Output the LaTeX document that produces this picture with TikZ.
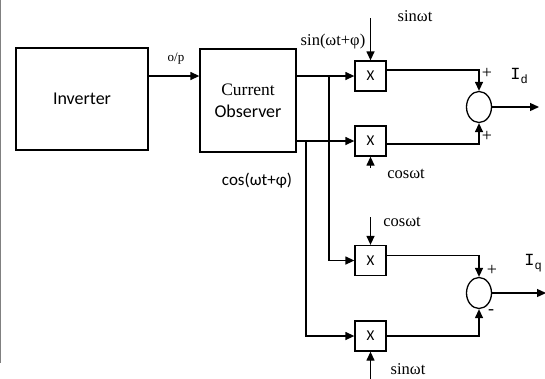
\documentclass[tikz,border=0pt]{standalone}
\usepackage{fontspec}
\setmainfont{Liberation Serif}
\setsansfont{Carlito}
\setmonofont{Liberation Mono}
\usepackage{tikz}
\usetikzlibrary{shapes,arrows.meta,positioning}

\begin{document}
\begin{tikzpicture}[x=1pt, y=-1pt, line width=1.3pt]
			\tikzstyle{Block}	= [draw, rectangle, inner sep=0pt, font=\sffamily\fontsize{18}{21}\selectfont]
			\tikzstyle{Mult}	= [draw, rectangle, minimum width=31pt, minimum height=30pt, inner sep=0pt, font=\sffamily\fontsize{15}{15}\selectfont]
			\tikzstyle{Sum}		= [draw, ellipse, minimum width=25pt, minimum height=31pt, inner sep=0pt]
			\tikzstyle{Sig}		= [-{Triangle[length=9pt,width=8pt]}]
			\tikzstyle{Lbl}		= [inner sep=0pt, font=\fontsize{16.5}{16.5}\selectfont]
			\tikzstyle{Sgn}		= [inner sep=0pt, font=\fontsize{18}{18}\selectfont]
			
			\useasboundingbox (0,0) rectangle (545,378);
			\draw [gray, line width=1.2pt] (0.6,0) -- (0.6,363);
			
			\node (inv) at (82, 99) [Block, minimum width=132pt, minimum height=102pt] {Inverter};
			\node (obs) at (248, 100.5) [Block, minimum width=96pt, minimum height=103pt, align=center] {{\rmfamily\fontsize{17.5}{20}\selectfont Current}\\[1pt]Observer};
			
			\node (x1) at (370.5, 76) [Mult] {X};
			\node (x2) at (370.5, 141) [Mult] {X};
			\node (x3) at (370.5, 260.5) [Mult] {X};
			\node (x4) at (370.5, 336) [Mult] {X};
			
			\node (s1) at (479, 107) [Sum] {};
			\node (s2) at (479, 293) [Sum] {};
			
			\coordinate (b1) at (329, 76);
			\coordinate (b2) at (306, 141);
			\coordinate (r1) at (370.5, 18);
			\coordinate (r2) at (370.5, 168);
			\coordinate (r3) at (370.5, 217);
			\coordinate (r4) at (370.5, 380);
			\coordinate (id) at (539, 107);
			\coordinate (iq) at (546, 293);
			
			% forward path
			\draw [Sig] (inv.east |- x1) to (obs.west |- x1);
			\draw [Sig] (obs.east |- x1) to (x1);
			\draw [Sig] (obs.east |- x2) to (x2);
			\draw [Sig] (b1) |- (x3);
			\draw [Sig] (b2) |- (x4);
			
			% reference signals
			\draw [Sig] (r1) to (x1.north);
			\draw [Sig] (r2) to (x2.south);
			\draw [Sig] (r3) to (x3.north);
			\draw [Sig] (r4) to (x4.south);
			
			% summing
			\draw [Sig] ([yshift=6pt]x1.east) -| (s1.north);
			\draw [Sig] ([yshift=-3pt]x2.east) -| (s1.south);
			\draw [Sig] ([yshift=5pt]x3.east) -| (s2.north);
			\draw [Sig] (x4.east) -| (s2.south);
			\draw [Sig] (s1.east) to (id);
			\draw [Sig] (s2.east) to (iq);
			
			\node (op) at (176, 59) [Lbl, font=\fontsize{13}{13}\selectfont] {o/p};
			\node (lsin) at (333, 42) [Lbl] {sin(ωt+φ)};
			\node (lcos) at (257, 181) [Lbl, font=\sffamily\fontsize{17}{17}\selectfont] {cos(ωt+φ)};
			\node (w1) at (415, 16) [Lbl] {sinωt};
			\node (w2) at (406, 174) [Lbl] {cosωt};
			\node (w3) at (402, 222) [Lbl] {cosωt};
			\node (w4) at (408, 369) [Lbl] {sinωt};
			
			\node (p1) at (487, 73) [Sgn] {+};
			\node (p2) at (487, 136) [Sgn] {+};
			\node (p3) at (492, 270) [Sgn] {+};
			\node (m1) at (491, 312) [Sgn] {-};
			
			\node (lid) at (519, 76) [Lbl, font=\ttfamily\fontsize{17}{17}\selectfont] {I\raisebox{-4pt}{\fontsize{12}{12}\selectfont d}};
			\node (liq) at (533, 263) [Lbl, font=\ttfamily\fontsize{17}{17}\selectfont] {I\raisebox{-4pt}{\fontsize{12}{12}\selectfont q}};
		\end{tikzpicture}
\end{document}
